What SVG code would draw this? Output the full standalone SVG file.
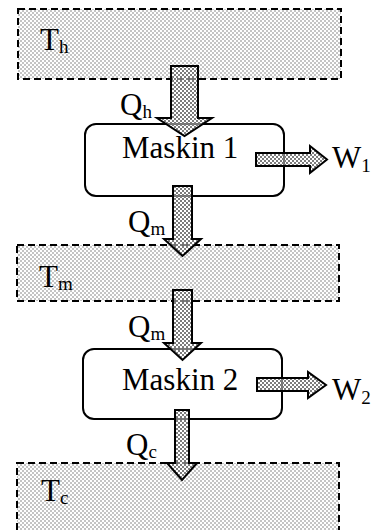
<svg xmlns="http://www.w3.org/2000/svg" width="386" height="530" viewBox="0 0 386 530">
<defs>
  <pattern id="light" width="4" height="4" patternUnits="userSpaceOnUse">
    <rect width="4" height="4" fill="#ffffff"/>
    <rect width="2" height="2" fill="#c4c4c4"/>
    <rect x="2" y="2" width="2" height="2" fill="#c4c4c4"/>
  </pattern>
  <pattern id="dark" width="4" height="4" patternUnits="userSpaceOnUse">
    <rect width="2" height="2" fill="#7c7c7c"/>
    <rect x="2" y="2" width="2" height="2" fill="#7c7c7c"/>
    <rect x="2" y="0" width="2" height="2" fill="#ffffff" fill-opacity="0.45"/>
    <rect x="0" y="2" width="2" height="2" fill="#ffffff" fill-opacity="0.45"/>
  </pattern>
</defs>
<style>
  .res { fill: url(#light); stroke: #000; stroke-width: 2; stroke-dasharray: 7 4; }
  .eng { fill: none; stroke: #000; stroke-width: 2; }
  .arr { fill: url(#dark); stroke: #000; stroke-width: 2; stroke-linejoin: miter; }
  text { font-family: "Liberation Serif", "Times New Roman", serif; font-size: 31px; fill: #000; }
  .sub { font-size: 19px; }
</style>

<g id="Th">
  <rect class="res" x="18" y="9" width="323" height="70"/>
  <text x="40" y="50">T<tspan class="sub" dy="3">h</tspan></text>
</g>
<g id="Tm">
  <rect class="res" x="17" y="245" width="322" height="56"/>
  <text x="39" y="287">T<tspan class="sub" dy="3">m</tspan></text>
</g>
<g id="Tc">
  <rect class="res" x="17" y="463" width="322" height="80"/>
  <text x="41" y="501">T<tspan class="sub" dy="3">c</tspan></text>
</g>
<g id="Maskin1">
  <rect class="eng" x="85" y="124" width="199" height="72" rx="11"/>
  <text x="122" y="158">Maskin 1</text>
</g>
<g id="Maskin2">
  <rect class="eng" x="83" y="349" width="199" height="70" rx="11"/>
  <text x="122" y="390">Maskin 2</text>
</g>

<g id="connectors">
  <path class="arr" d="M171,66 H198 V118 H212 L184.5,136 L157,118 H171 Z"/>
  <text x="120" y="115">Q<tspan class="sub" dy="3">h</tspan></text>

  <path class="arr" d="M256,153 H310 V146 L327,159.5 L310,173 V166 H256 Z"/>
  <text x="332" y="168">W<tspan class="sub" dy="4">1</tspan></text>

  <path class="arr" d="M173,186 H192 V239 H201 L182.5,256 L164,239 H173 Z"/>
  <text x="128" y="232">Q<tspan class="sub" dy="3">m</tspan></text>

  <path class="arr" d="M173,290 H192 V343 H201 L182.5,360 L164,343 H173 Z"/>
  <text x="128" y="337">Q<tspan class="sub" dy="3">m</tspan></text>

  <path class="arr" d="M257,378 H308 V372 L326,385 L308,398 V391 H257 Z"/>
  <text x="332" y="400">W<tspan class="sub" dy="4">2</tspan></text>

  <path class="arr" d="M175,410 H189 V463 H197 L182,480 L167,463 H175 Z"/>
  <text x="126" y="455">Q<tspan class="sub" dy="3">c</tspan></text>
</g>
</svg>
